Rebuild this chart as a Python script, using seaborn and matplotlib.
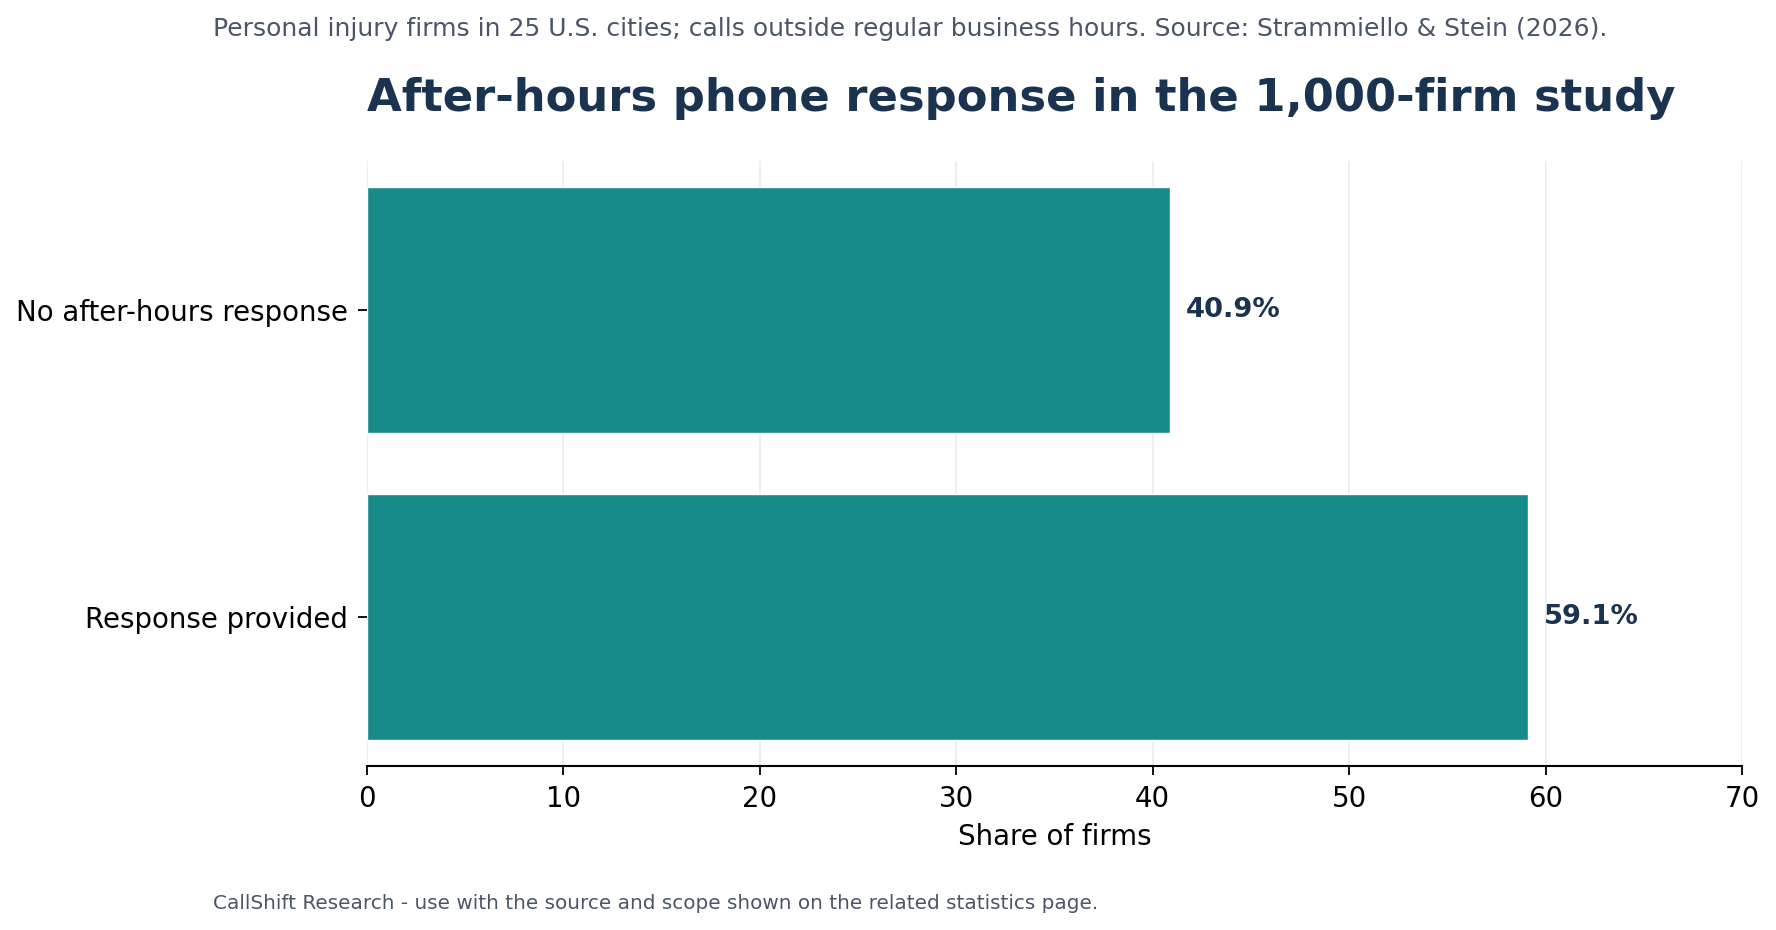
import matplotlib
matplotlib.use("Agg")
import matplotlib.pyplot as plt
import seaborn as sns
import pandas as pd

categories = ["No after-hours response", "Response provided"]
shares = [40.9, 59.1]
value_labels = ["40.9%", "59.1%"]
x_ticks = [0, 10, 20, 30, 40, 50, 60, 70]

title = "After-hours phone response in the 1,000-firm study"
subtitle = "Personal injury firms in 25 U.S. cities; calls outside regular business hours. Source: Strammiello & Stein (2026)."
footer = "CallShift Research - use with the source and scope shown on the related statistics page."
x_label = "Share of firms"

BAR = "#178a8a"
NAVY = "#1a3350"
GREY = "#4a5568"

sns.set_theme(style="white")
plt.rcParams["font.family"] = ["DejaVu Sans"]

df = pd.DataFrame({"category": categories, "share": shares})

fig = plt.figure(figsize=(17.76, 9.30), dpi=100)
ax = fig.add_axes([367 / 1776, 1 - 766 / 930, (1742 - 367) / 1776, (766 - 161) / 930])

sns.barplot(data=df, x="share", y="category", order=categories, color=BAR,
            saturation=1, width=0.8, ax=ax, zorder=2)

for i, (v, lab) in enumerate(zip(shares, value_labels)):
    ax.text(v + 0.8, i, lab, va="center", ha="left", fontsize=19.7,
            fontweight="bold", color=NAVY)

ax.set_xlim(0, 70)
ax.set_ylim(1.485, -0.485)
ax.set_xticks(x_ticks)
ax.set_xticklabels([str(t) for t in x_ticks])
ax.xaxis.grid(True, color="#ebebeb", linewidth=1.2, zorder=0)
ax.yaxis.grid(False)
ax.set_axisbelow(True)
for s in ["top", "right", "left"]:
    ax.spines[s].set_visible(False)
ax.spines["bottom"].set_color("black")
ax.spines["bottom"].set_linewidth(1.5)
ax.tick_params(axis="both", which="both", length=6.5, width=1.3, color="black",
               pad=7, labelsize=19.9, labelcolor="black", left=True, bottom=True)
ax.set_xlabel(x_label, fontsize=19.9, color="black", labelpad=7.5)
ax.set_ylabel("")

fig.text(367 / 1776, 1 - 98 / 930, title, fontsize=32.35, fontweight="bold",
         color=NAVY, ha="left", va="center")
fig.text(213 / 1776, 1 - 29 / 930, subtitle, fontsize=18, color=GREY,
         ha="left", va="center")
fig.text(213 / 1776, 1 - 903 / 930, footer, fontsize=14.4, color=GREY,
         ha="left", va="center")

fig.savefig("out.png", dpi=100)
